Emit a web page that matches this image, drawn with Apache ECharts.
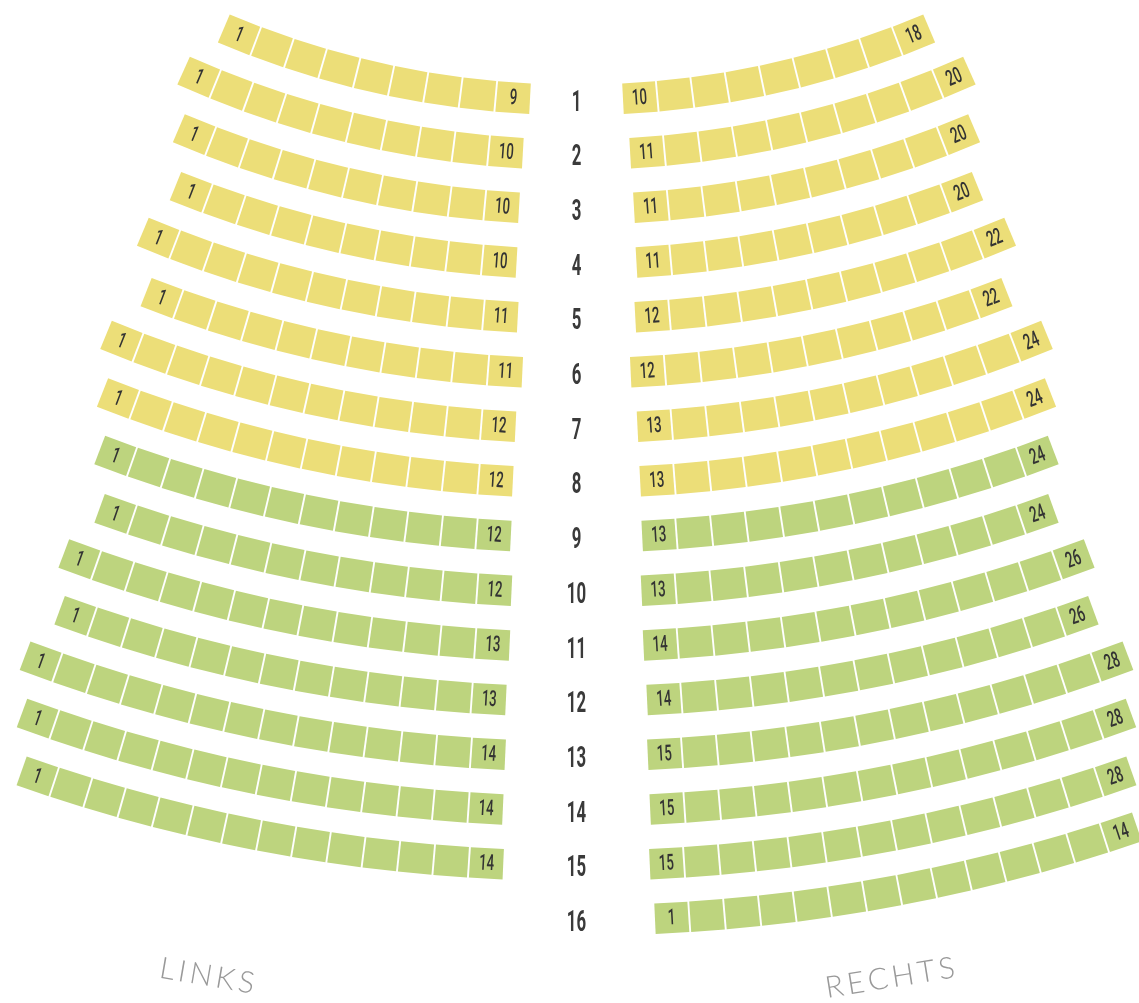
<!DOCTYPE html>
<html lang="de">
<head>
    <meta charset="utf-8">
    <style>
        html, body, #container {
          width: 100%;
          height: 100%;
          margin: 0;
          padding: 0;
          background: #fff;
        }
    </style>
</head>
<body>
<div id="container"></div>
<script type="text/javascript" src="https://fastly.jsdelivr.net/npm/echarts@6/dist/echarts.min.js"></script>
<script type="text/javascript">
  // rows and seat numbers
  var rowLabels = ['1', '2', '3', '4', '5', '6', '7', '8', '9', '10', '11', '12', '13', '14', '15', '16'];
  var leftLast = [9, 10, 10, 10, 11, 11, 12, 12, 12, 12, 13, 13, 14, 14, 14, 0];      // links: seats 1..n
  var rightFirst = [10, 11, 11, 11, 12, 12, 13, 13, 13, 13, 14, 14, 15, 15, 15, 1];
  var rightLast = [18, 20, 20, 20, 22, 22, 24, 24, 24, 24, 26, 26, 28, 28, 28, 14];
  var yellowRows = 8;   // rows 1..8 yellow, rest green
  var blockNames = ['LINKS', 'RECHTS'];

  // layout (px)
  var innerGap = [46.5, 53.7, 57.5, 60, 58.8, 54.2, 61, 63.7, 65.7, 65, 67, 70.6, 71.3, 73.7, 73.3, 78.5];
  var seatPitch = 35.3, seatWidth = 33.4, seatDepth = 30.5;
  var colors = ['#ECDE78', '#BDD47E'];

  var seats = [];
  for (var i = 0; i < rowLabels.length; i++) {
    var row = i + 1;
    for (var n = leftLast[i]; n >= 1; n--) {
      seats.push([row, -1, leftLast[i] - n, n, (n === 1 || n === leftLast[i]) ? String(n) : '']);
    }
    for (var m = rightFirst[i]; m <= rightLast[i]; m++) {
      seats.push([row, 1, m - rightFirst[i], m, (m === rightFirst[i] || m === rightLast[i]) ? String(m) : '']);
    }
  }

  function renderSeat(params, api) {
    var item = seats[params.dataIndex];
    var row = api.value(0), side = api.value(1), slot = api.value(2);
    var R = api.coord([row, 180])[2];
    var pitchR = api.coord([row + 1, 180])[2] - R;
    var degPx = 180 / Math.PI / R;
    var aMid = 180 - side * (innerGap[row - 1] + seatWidth / 2 + slot * seatPitch) * degPx;
    var wd = seatWidth / 2 * degPx;
    var dh = seatDepth / 2 / pitchR;
    var pts = [
      api.coord([row - dh, aMid - wd]).slice(0, 2),
      api.coord([row - dh, aMid + wd]).slice(0, 2),
      api.coord([row + dh, aMid + wd]).slice(0, 2),
      api.coord([row + dh, aMid - wd]).slice(0, 2)
    ];
    var children = [{
      type: 'polygon',
      shape: { points: pts },
      style: { fill: row <= yellowRows ? colors[0] : colors[1] }
    }];
    if (item[4]) {
      var c = api.coord([row + 1 / pitchR, aMid]);
      children.push({
        type: 'text',
        x: c[0],
        y: c[1],
        rotation: (180 - aMid) * Math.PI / 180,
        scaleX: 0.6,
        style: {
          text: item[4], x: 0, y: 0,
          align: 'center', verticalAlign: 'middle',
          fill: '#333', font: '500 22px Roboto'
        }
      });
    }
    return { type: 'group', children: children };
  }

  function renderRowLabel(params, api) {
    var c = api.coord([api.value(0), 180]);
    return {
      type: 'text',
      x: c[0],
      y: c[1] + 3,
      scaleX: 0.56,
      style: {
        text: rowLabels[params.dataIndex], x: 0, y: 0,
        align: 'center', verticalAlign: 'middle',
        fill: '#3a3a3a', font: 'bold 30px Roboto'
      }
    };
  }

  function spaced(s) {
    return s.split('').join('\u2009');
  }

  var option = {
    animation: false,
    backgroundColor: '#fff',
    polar: {
      center: [576.5, -805],
      radius: [850.3, 1780.2]
    },
    radiusAxis: { type: 'value', min: 0, max: 17, show: false },
    angleAxis: { type: 'value', min: 0, max: 360, startAngle: 90, clockwise: true, show: false },
    graphic: [
      {
        type: 'text', x: 207, y: 976, rotation: -0.17,
        style: { text: spaced(blockNames[0]), align: 'center', verticalAlign: 'middle', font: '300 30px Lato', fill: '#999' }
      },
      {
        type: 'text', x: 890, y: 978, rotation: 0.16,
        style: { text: spaced(blockNames[1]), align: 'center', verticalAlign: 'middle', font: '300 30px Lato', fill: '#999' }
      }
    ],
    series: [
      {
        type: 'custom',
        coordinateSystem: 'polar',
        renderItem: renderSeat,
        data: seats.map(function (s) { return [s[0], s[1], s[2], s[3]]; }),
        silent: true
      },
      {
        type: 'custom',
        coordinateSystem: 'polar',
        renderItem: renderRowLabel,
        data: rowLabels.map(function (r, i) { return [i + 1, 180]; }),
        silent: true
      }
    ]
  };

  var myChart = echarts.init(document.getElementById('container'), null, { renderer: 'canvas' });
  myChart.setOption(option);
  window.addEventListener('resize', myChart.resize);
</script>
</body>
</html>
